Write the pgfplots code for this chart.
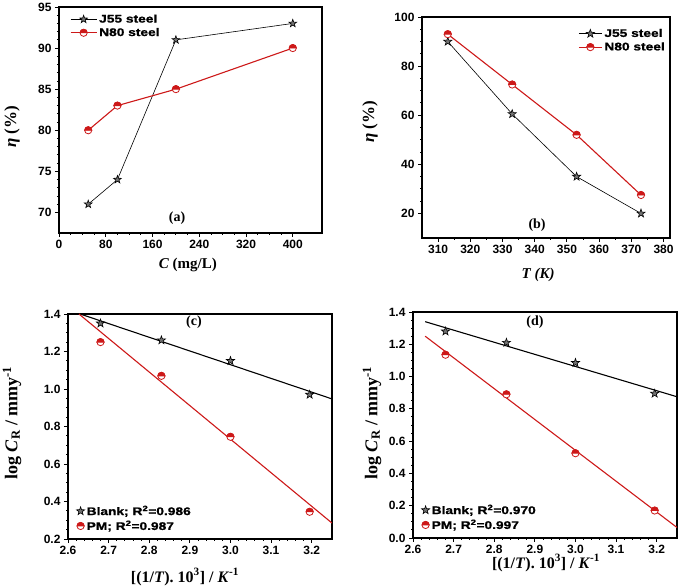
\documentclass[border=0pt]{standalone}
\usepackage{pgfplots}
\pgfplotsset{compat=1.18}
\usepackage{fontspec}
\setmainfont{Liberation Serif}
\setsansfont{Liberation Sans}
\newfontfamily\legfont[FakeStretch=1.25, FakeBold=1.2]{Liberation Sans Bold}
\usetikzlibrary{plotmarks}
\definecolor{myred}{RGB}{205,25,25}
\pgfdeclareplotmark{fstar}{%
  \pgfpathmoveto{\pgfpointpolar{90}{1.2\pgfplotmarksize}}%
  \pgfpathlineto{\pgfpointpolar{126}{0.48\pgfplotmarksize}}%
  \pgfpathlineto{\pgfpointpolar{162}{1.2\pgfplotmarksize}}%
  \pgfpathlineto{\pgfpointpolar{198}{0.48\pgfplotmarksize}}%
  \pgfpathlineto{\pgfpointpolar{234}{1.2\pgfplotmarksize}}%
  \pgfpathlineto{\pgfpointpolar{270}{0.48\pgfplotmarksize}}%
  \pgfpathlineto{\pgfpointpolar{306}{1.2\pgfplotmarksize}}%
  \pgfpathlineto{\pgfpointpolar{342}{0.48\pgfplotmarksize}}%
  \pgfpathlineto{\pgfpointpolar{18}{1.2\pgfplotmarksize}}%
  \pgfpathlineto{\pgfpointpolar{54}{0.48\pgfplotmarksize}}%
  \pgfpathclose\pgfusepathqfillstroke}
\pgfdeclareplotmark{hcirc}{%
  \pgfpathcircle{\pgfpointorigin}{\pgfplotmarksize}%
  \pgfsetfillcolor{white}\pgfusepathqfillstroke
  \pgfpathmoveto{\pgfpoint{\pgfplotmarksize}{0pt}}%
  \pgfpatharc{0}{180}{\pgfplotmarksize}%
  \pgfpathclose
  \pgfsetfillcolor{myred}\pgfusepathqfillstroke}
\pgfplotsset{
  panel/.style={
    scale only axis, axis line style={line width=1.1pt}, axis x line*=box, axis y line*=box,
    tick align=outside, xtick pos=bottom, ytick pos=left,
    major tick length=4pt, minor tick length=2pt,
    every tick/.style={black, line width=0.9pt},
    tick label style={font=\fontsize{12}{13}\sffamily\bfseries},
    /pgf/number format/assume math mode=true,
    label style={font=\fontsize{15}{16}\selectfont\bfseries},
    legend style={draw=none, fill=none, font=\fontsize{11}{12}\legfont, row sep=0pt},
    legend cell align=left,
  },
  starplot/.style={black, line width=0.6pt, mark=fstar, mark size=3.6pt, mark options={fill=black!55, draw=black, line width=0.6pt}},
  circplot/.style={myred, line width=1.1pt, mark=hcirc, mark size=3.6pt, mark options={myred, line width=0.8pt}},
}
\begin{document}
\begin{tikzpicture}[x=1pt,y=1pt]
\path[use as bounding box] (0,0) rectangle (685,588);
% (a)
\begin{axis}[panel, at={(59pt,355pt)}, anchor=south west, width=263pt, height=226pt,
  xmin=0, xmax=450, ymin=67.5, ymax=95,
  xtick={0,80,...,400}, ytick={70,75,...,95},
  minor x tick num=3, minor y tick num=4,
  xlabel={\textit{C} (mg/L)}, ylabel={\fontsize{17}{18}\selectfont\textit{η} (\%)},
  xlabel style={at={(axis description cs:0.49,-0.142)}, anchor=center},
  ylabel style={at={(axis description cs:-0.179,0.47)}, anchor=center},
  legend style={at={(0.03,0.985)}, anchor=north west},
  legend image code/.code={\draw[mark repeat=2,mark phase=2] plot coordinates {(0pt,0pt)(13pt,0pt)(26pt,0pt)};},
]
\addplot[starplot, mark size=3.4pt] coordinates {(50,71) (100,74) (200,91) (400,93)};
\addlegendentry{J55 steel}
\addplot[circplot] coordinates {(50,80) (100,83) (200,85) (400,90)};
\addlegendentry{N80 steel}
\node[font=\fontsize{14}{15}\selectfont\bfseries] at (rel axis cs:0.449,0.066) {(a)};
\end{axis}
% (b)
\begin{axis}[panel, at={(422pt,350pt)}, anchor=south west, width=248pt, height=221pt,
  xmin=305, xmax=382, ymin=10, ymax=100,
  xtick={310,320,...,380}, ytick={20,40,...,100},
  minor x tick num=1, minor y tick num=3,
  xlabel={\textit{T (K)}}, ylabel={\fontsize{17}{18}\selectfont\textit{η} (\%)},
  xlabel style={at={(axis description cs:0.468,-0.167)}, anchor=center},
  ylabel style={at={(axis description cs:-0.21,0.525)}, anchor=center},
  legend style={at={(1.0,0.965)}, anchor=north east},
  legend image code/.code={\draw[mark repeat=2,mark phase=2] plot coordinates {(0pt,0pt)(11.5pt,0pt)(23pt,0pt)};},
]
\addplot[starplot] coordinates {(313,90) (333,60.5) (353,35) (373,20)};
\addlegendentry{J55 steel}
\addplot[circplot] coordinates {(313,93) (333,72.5) (353,52) (373,27.5)};
\addlegendentry{N80 steel}
\node[font=\fontsize{14}{15}\selectfont\bfseries] at (rel axis cs:0.464,0.059) {(b)};
\end{axis}
% (c)
\begin{axis}[panel, at={(68pt,49pt)}, anchor=south west, width=264pt, height=225pt,
  xmin=2.6, xmax=3.25, ymin=0.2, ymax=1.4,
  xtick={2.6,2.7,...,3.21}, ytick={0.2,0.4,...,1.41},
  minor x tick num=4, minor y tick num=3,
  xticklabel style={/pgf/number format/.cd, fixed, fixed zerofill, precision=1},
  yticklabel style={/pgf/number format/.cd, fixed, fixed zerofill, precision=1},
  xlabel={[(1/\textit{T}). 10\textsuperscript{3}] / \textit{K}\textsuperscript{-1}},
  ylabel={log \textit{C}\textsubscript{R} / mmy\textsuperscript{-1}},
  xlabel style={font=\fontsize{16}{17}\selectfont\bfseries, at={(axis description cs:0.443,-0.169)}, anchor=center},
  ylabel style={font=\fontsize{18}{19}\selectfont\bfseries, at={(axis description cs:-0.212,0.516)}, anchor=center},
  legend style={at={(0.02,0.015)}, anchor=south west},
]
\addplot[black, line width=1.1pt, forget plot] coordinates {(2.63,1.40) (3.25,0.947)};
\addplot[myred, line width=1.1pt, forget plot] coordinates {(2.627,1.40) (3.25,0.285)};
\addplot[starplot, only marks] coordinates {(2.68,1.35) (2.83,1.26) (3.0,1.15) (3.195,0.97)};
\addlegendentry{Blank; R\textsuperscript{2}=0.986}
\addplot[circplot, only marks] coordinates {(2.68,1.25) (2.83,1.07) (3.0,0.745) (3.195,0.345)};
\addlegendentry{PM; R\textsuperscript{2}=0.987}
\node[font=\fontsize{14}{15}\selectfont\bfseries] at (rel axis cs:0.477,0.964) {(c)};
\end{axis}
% (d)
\begin{axis}[panel, at={(413pt,50pt)}, anchor=south west, width=264pt, height=226pt,
  xmin=2.6, xmax=3.25, ymin=0, ymax=1.4,
  xtick={2.6,2.7,...,3.21}, ytick={0,0.2,...,1.41},
  minor x tick num=4, minor y tick num=3,
  xticklabel style={/pgf/number format/.cd, fixed, fixed zerofill, precision=1},
  yticklabel style={/pgf/number format/.cd, fixed, fixed zerofill, precision=1},
  xlabel={[(1/\textit{T}). 10\textsuperscript{3}] / \textit{K}\textsuperscript{-1}},
  ylabel={log \textit{C}\textsubscript{R} / mmy\textsuperscript{-1}},
  xlabel style={font=\fontsize{16}{17}\selectfont\bfseries, at={(axis description cs:0.504,-0.111)}, anchor=center},
  ylabel style={font=\fontsize{18}{19}\selectfont\bfseries, at={(axis description cs:-0.155,0.509)}, anchor=center},
  legend style={at={(0.02,0.015)}, anchor=south west},
]
\addplot[black, line width=1.1pt, forget plot] coordinates {(2.63,1.34) (3.25,0.875)};
\addplot[myred, line width=1.1pt, forget plot] coordinates {(2.63,1.25) (3.25,0.065)};
\addplot[starplot, only marks] coordinates {(2.68,1.28) (2.83,1.21) (3.0,1.085) (3.195,0.895)};
\addlegendentry{Blank; R\textsuperscript{2}=0.970}
\addplot[circplot, only marks] coordinates {(2.68,1.135) (2.83,0.89) (3.0,0.525) (3.195,0.17)};
\addlegendentry{PM; R\textsuperscript{2}=0.997}
\node[font=\fontsize{14}{15}\selectfont\bfseries] at (rel axis cs:0.462,0.956) {(d)};
\end{axis}
\end{tikzpicture}
\end{document}
